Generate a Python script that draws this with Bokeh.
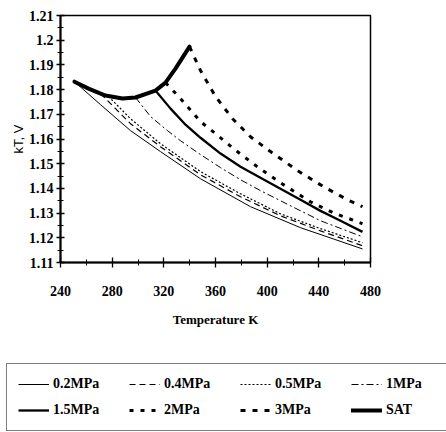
from bokeh.plotting import figure
from bokeh.layouts import column
from bokeh.models import (Legend, LegendItem, FixedTicker, PrintfTickFormatter,
                          Range1d)
from bokeh.embed import file_html
from bokeh.resources import INLINE

# ---------------- data ----------------
T_sat = [250.8, 261.7, 274.8, 288.0, 298.1, 313.5, 321.3, 329.0, 339.9]
kT_sat = [1.1832, 1.1804, 1.1776, 1.1764, 1.1768, 1.1796, 1.1828, 1.1885, 1.1974]

T_02 = [250.8, 271.0, 294.2, 317.4, 348.4, 387.1, 425.8, 473.8]
kT_02 = [1.1832, 1.1739, 1.1634, 1.1549, 1.1439, 1.1326, 1.1241, 1.1155]

T_04 = [271.0, 282.6, 294.2, 317.4, 348.4, 379.4, 410.3, 441.3, 473.8]
kT_04 = [1.1784, 1.1723, 1.1662, 1.1569, 1.1455, 1.1366, 1.1289, 1.1228, 1.1168]

T_05 = [277.2, 286.5, 294.2, 317.4, 348.4, 379.4, 410.3, 441.3, 473.8]
kT_05 = [1.1772, 1.1723, 1.1682, 1.1581, 1.1468, 1.1378, 1.1297, 1.1237, 1.1180]

T_1 = [298.1, 309.7, 322.8, 332.9, 348.4, 363.9, 379.4, 394.8, 410.3, 441.3, 473.8]
kT_1 = [1.1768, 1.1691, 1.1634, 1.1593, 1.1537, 1.1484, 1.1435, 1.1391, 1.1350, 1.1269, 1.1204]

T_15 = [313.5, 325.2, 336.8, 348.4, 363.9, 379.4, 394.8, 410.3, 425.8, 441.3, 456.8, 473.8]
kT_15 = [1.1796, 1.1723, 1.1658, 1.1605, 1.1541, 1.1488, 1.1443, 1.1399, 1.1354, 1.1309, 1.1269, 1.1224]

T_2 = [321.3, 332.9, 348.4, 360.0, 373.9, 393.3, 410.3, 433.5, 451.3, 473.8]
kT_2 = [1.1828, 1.1764, 1.1670, 1.1622, 1.1561, 1.1484, 1.1423, 1.1346, 1.1301, 1.1257]

T_3 = [339.9, 348.4, 360.0, 373.2, 387.1, 402.6, 423.5, 443.6, 462.2, 473.8]
kT_3 = [1.1974, 1.1877, 1.1772, 1.1682, 1.1609, 1.1549, 1.1472, 1.1407, 1.1354, 1.1326]

x_ticks = [240, 280, 320, 360, 400, 440, 480]
y_ticks = [1.11, 1.12, 1.13, 1.14, 1.15, 1.16, 1.17, 1.18, 1.19, 1.2, 1.21]

labels = ["0.2MPa", "0.4MPa", "0.5MPa", "1MPa", "1.5MPa", "2MPa", "3MPa", "SAT"]

SERIF = "Liberation Serif"

styles = [
    dict(line_width=1),
    dict(line_width=1.2, line_dash="6 4"),
    dict(line_width=1.2, line_dash="2 2"),
    dict(line_width=1, line_dash="7 3 2 3"),
    dict(line_width=2.3),
    dict(line_width=3, line_dash="4 7"),
    dict(line_width=3, line_dash="5 7"),
    dict(line_width=4, line_cap="round"),
]
series = [(T_02, kT_02), (T_04, kT_04), (T_05, kT_05), (T_1, kT_1),
          (T_15, kT_15), (T_2, kT_2), (T_3, kT_3), (T_sat, kT_sat)]

# ---------------- main figure ----------------
p = figure(width=446, height=345, output_backend="svg", toolbar_location=None,
           x_range=Range1d(240, 480), y_range=Range1d(1.11, 1.21),
           min_border_left=60, min_border_right=76, min_border_top=15,
           min_border_bottom=83)
p.frame_align = False
p.background_fill_color = "white"
p.border_fill_color = "white"
p.outline_line_color = "black"
p.outline_line_width = 1.5
p.xgrid.visible = False
p.ygrid.visible = False

xa = p.xaxis[0]
xa.ticker = FixedTicker(ticks=x_ticks, minor_ticks=list(range(240, 481, 20)))
xa.axis_line_width = 2
xa.major_tick_in = 5
xa.major_tick_out = 5
xa.minor_tick_in = 3
xa.minor_tick_out = 3
xa.major_tick_line_width = 1.3
xa.minor_tick_line_width = 1
xa.major_label_text_font = SERIF
xa.major_label_text_font_style = "bold"
xa.major_label_text_font_size = "14px"
xa.major_label_text_color = "black"
xa.major_label_standoff = 18
xa.axis_label = "Temperature K"
xa.axis_label_text_font = SERIF
xa.axis_label_text_font_style = "bold"
xa.axis_label_text_font_size = "13px"
xa.axis_label_text_color = "black"
xa.axis_label_standoff = 13

ya = p.yaxis[0]
ya.ticker = FixedTicker(ticks=y_ticks,
                        minor_ticks=[1.11 + 0.005 * i for i in range(21)])
ya.formatter = PrintfTickFormatter(format="%g")
ya.axis_line_width = 2
ya.major_tick_in = 4
ya.major_tick_out = 4
ya.minor_tick_in = 3
ya.minor_tick_out = 3
ya.major_tick_line_width = 1.3
ya.minor_tick_line_width = 1
ya.major_label_text_font = SERIF
ya.major_label_text_font_style = "bold"
ya.major_label_text_font_size = "14px"
ya.major_label_text_color = "black"
ya.major_label_standoff = 3
ya.axis_label = "kT, V"
ya.axis_label_text_font = "Liberation Sans"
ya.axis_label_text_font_style = "normal"
ya.axis_label_text_font_size = "13px"
ya.axis_label_text_color = "black"
ya.axis_label_standoff = 0

for (xs, ys), st in zip(series, styles):
    p.line(xs, ys, line_color="black", **st)

# ---------------- legend strip (its lines lie outside its own view) ----------------
p2 = figure(width=446, height=87, output_backend="svg", toolbar_location=None,
            x_range=Range1d(0, 1), y_range=Range1d(0, 1),
            x_axis_type=None, y_axis_type=None,
            min_border_left=0, min_border_right=0, min_border_top=0,
            min_border_bottom=0)
p2.frame_align = False
p2.outline_line_color = None
p2.xgrid.visible = False
p2.ygrid.visible = False
p2.background_fill_color = "white"
p2.border_fill_color = "white"

items = []
for lab, (xs, ys), st in zip(labels, series, styles):
    r = p2.line(xs, ys, line_color="black", **st)
    items.append(LegendItem(label=lab, renderers=[r]))

legend = Legend(items=items, location=(6, 1), orientation="horizontal",
                ncols=4)
legend.border_line_color = "black"
legend.border_line_width = 1.5
legend.background_fill_color = "white"
legend.background_fill_alpha = 1
legend.padding = 11
legend.spacing = 8
legend.margin = 0
legend.glyph_width = 31
legend.glyph_height = 18
legend.label_height = 18
legend.label_width = 68
legend.label_standoff = 4
legend.label_text_font = SERIF
legend.label_text_font_style = "bold"
legend.label_text_font_size = "14px"
legend.label_text_color = "black"
p2.add_layout(legend)

layout = column(p, p2, spacing=0)
open("out.html", "w").write(file_html(layout, INLINE))
